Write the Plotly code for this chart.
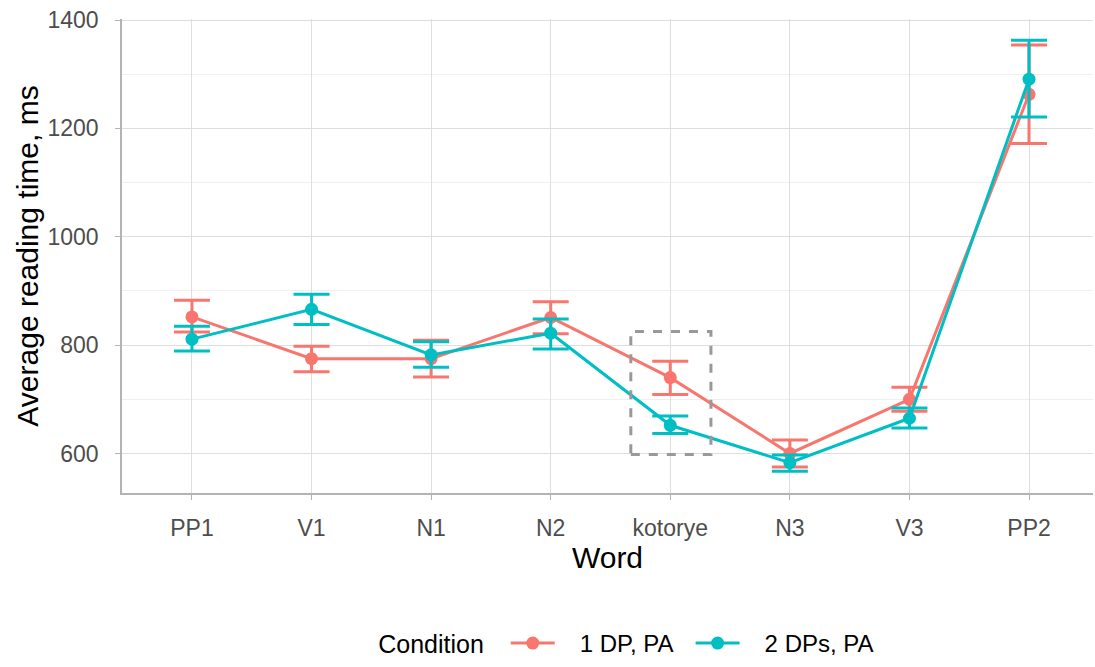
import plotly.graph_objects as go

words = ["PP1", "V1", "N1", "N2", "kotorye", "N3", "V3", "PP2"]

cond1_name = "1 DP, PA"
cond1_mean = [852, 775, 775, 851, 740, 600, 700, 1263]
cond1_low = [824, 751, 741, 821, 709, 575, 678, 1172]
cond1_high = [883, 798, 809, 880, 770, 625, 722, 1354]

cond2_name = "2 DPs, PA"
cond2_mean = [811, 866, 782, 822, 652, 583, 665, 1291]
cond2_low = [789, 838, 759, 793, 637, 567, 647, 1221]
cond2_high = [835, 894, 806, 848, 669, 597, 684, 1363]

colors = ["#F8766D", "#00BFC4"]

fig = go.Figure()
for name, m, lo, hi, c in [
    (cond1_name, cond1_mean, cond1_low, cond1_high, colors[0]),
    (cond2_name, cond2_mean, cond2_low, cond2_high, colors[1]),
]:
    fig.add_trace(go.Scatter(
        x=words, y=m, name="   " + name + "  ", mode="lines+markers",
        line=dict(color=c, width=3),
        marker=dict(color=c, size=13),
        error_y=dict(type="data", symmetric=False,
                     array=[h - v for h, v in zip(hi, m)],
                     arrayminus=[v - l for v, l in zip(m, lo)],
                     color=c, thickness=3, width=18),
    ))

# dashed highlight box around "kotorye"
fig.add_shape(type="rect", xref="x", yref="y", x0=3.67, x1=4.34, y0=598, y1=825,
              line=dict(color="#999999", width=3, dash="dash"), fillcolor="rgba(0,0,0,0)")

font_family = "Liberation Sans, Arial, sans-serif"
fig.update_layout(
    width=1095, height=667,
    margin=dict(l=122, r=2, t=19, b=173),
    paper_bgcolor="white", plot_bgcolor="white",
    font=dict(family=font_family, color="#000000"),
    showlegend=True,
    legend=dict(orientation="h", x=0.527, xanchor="center", y=-0.362, yanchor="bottom",
                title=dict(text="Condition  ", font=dict(size=25)),
                font=dict(size=24), itemwidth=44),
    xaxis=dict(
        categoryorder="array", categoryarray=words,
        range=[-0.585, 7.535],
        showgrid=True, gridcolor="#DEDEDE", gridwidth=1,
        showline=True, linecolor="#B3B3B3", linewidth=1.5,
        ticks="outside", ticklen=5, tickcolor="#B3B3B3", tickwidth=1,
        ticklabelstandoff=9,
        tickfont=dict(size=23, color="#4D4D4D"),
        title=dict(text="Word", font=dict(size=30), standoff=3),
        zeroline=False,
    ),
    yaxis=dict(
        range=[527, 1402],
        tick0=600, dtick=200,
        showgrid=True, gridcolor="#DEDEDE", gridwidth=1,
        minor=dict(dtick=100, showgrid=True, gridcolor="#EFEFEF", gridwidth=1, ticks=""),
        showline=True, linecolor="#B3B3B3", linewidth=1.5,
        ticks="outside", ticklen=5, tickcolor="#B3B3B3", tickwidth=1,
        ticklabelstandoff=12,
        tickfont=dict(size=23, color="#4D4D4D"),
        title=dict(text="Average reading time, ms", font=dict(size=30), standoff=0),
        zeroline=False,
    ),
)

fig.write_html("out.html")
